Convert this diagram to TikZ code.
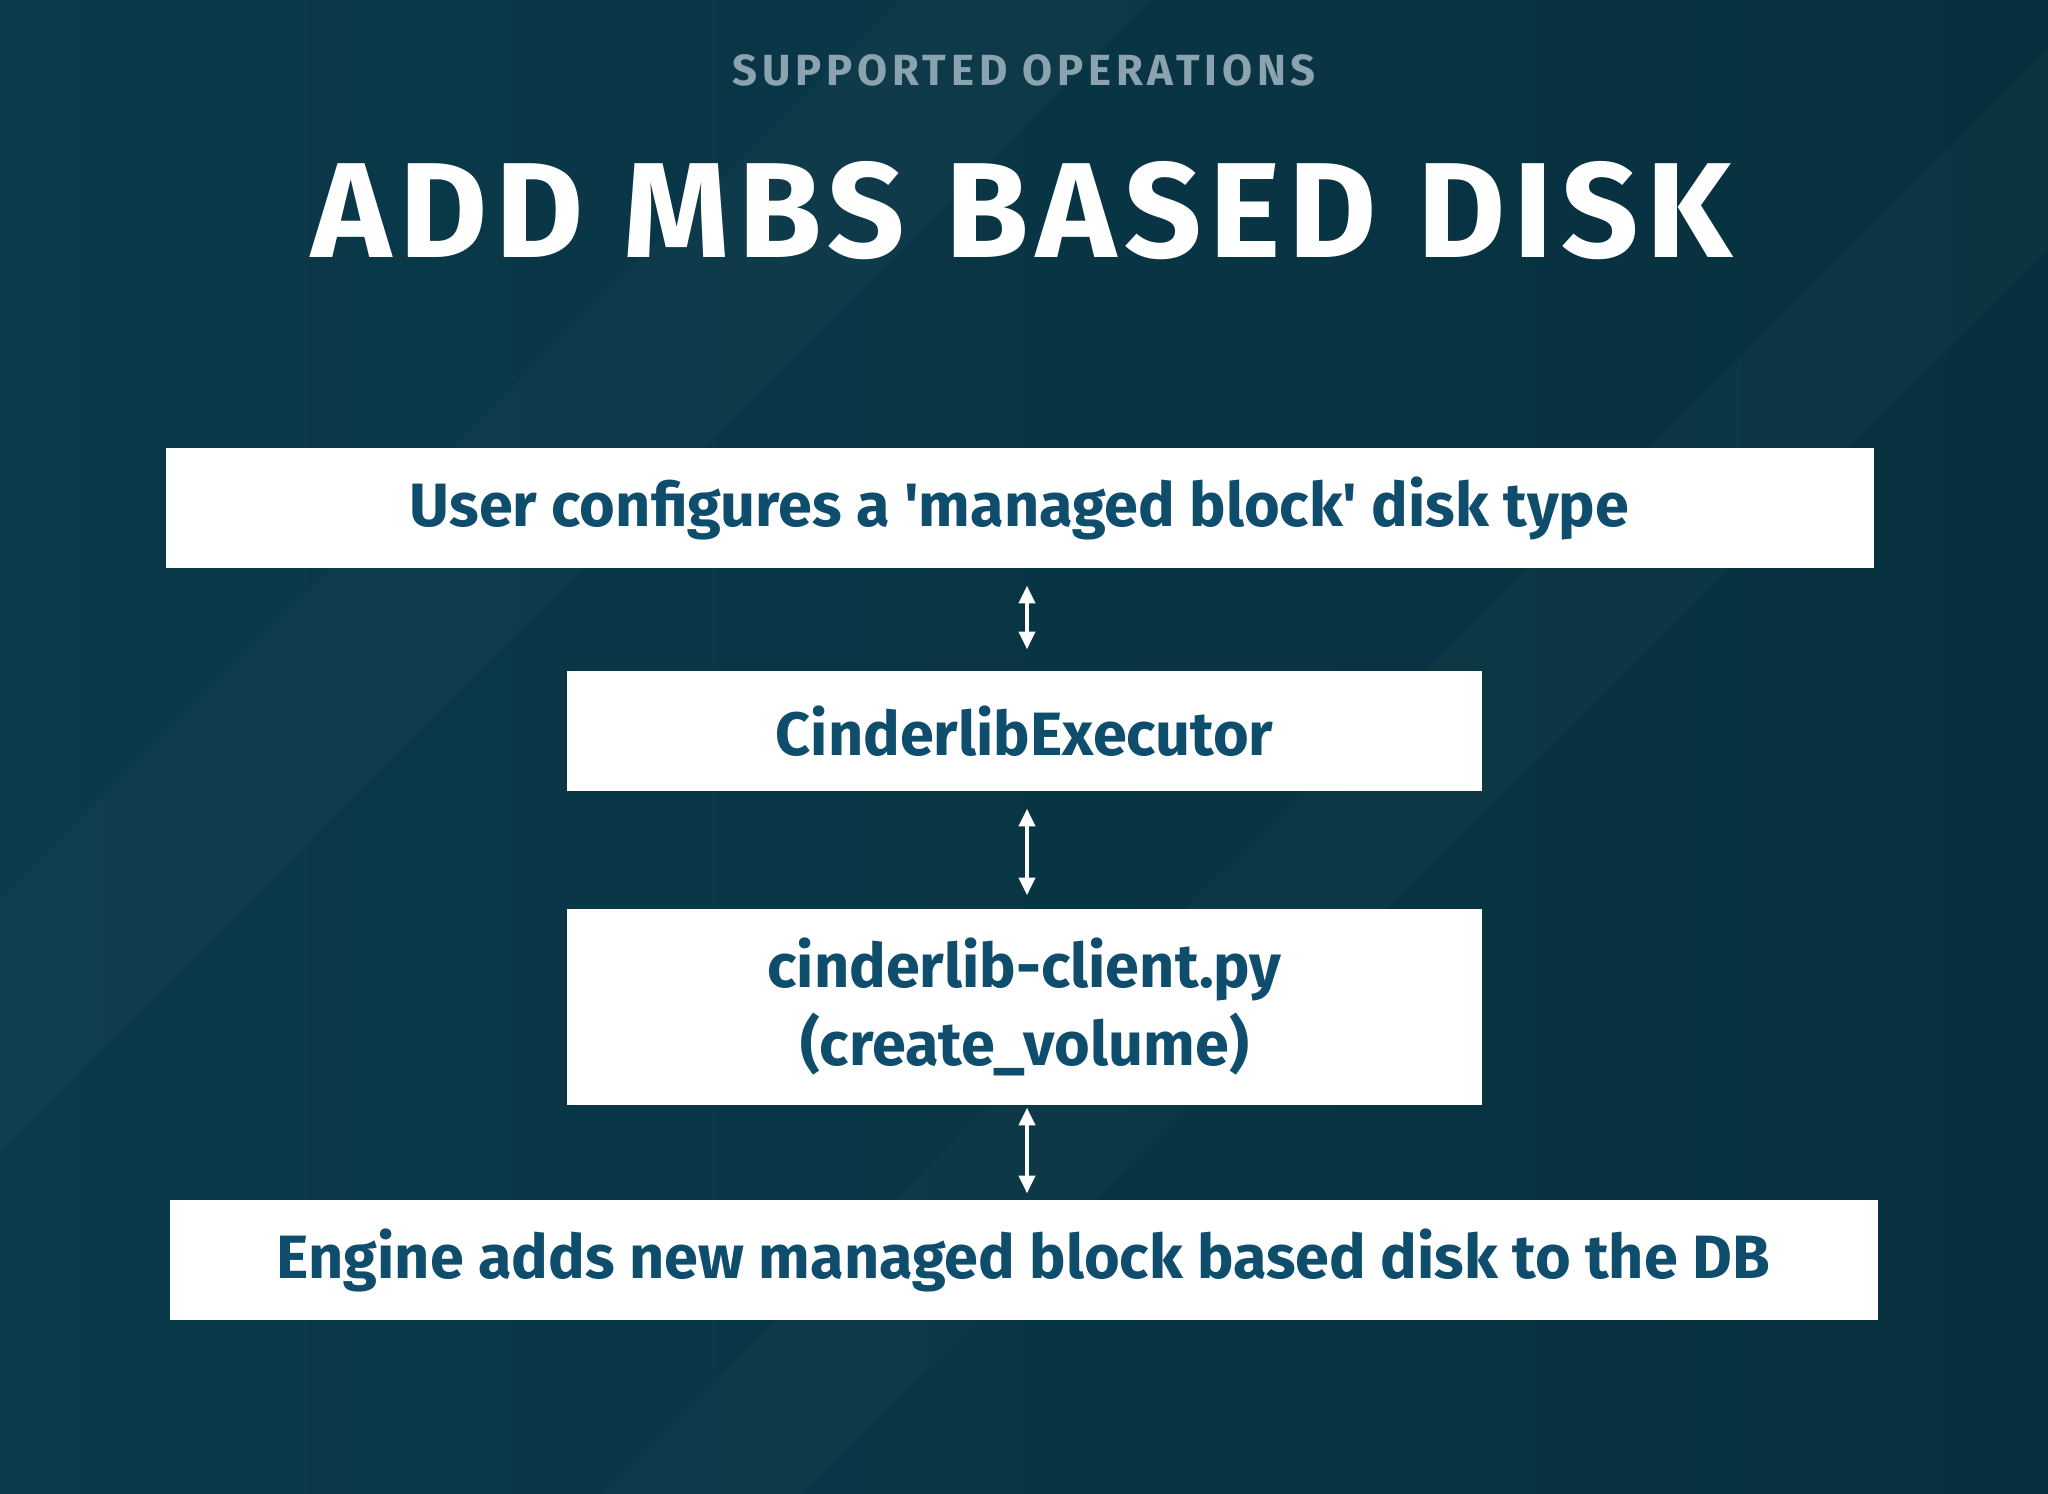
\documentclass[tikz,border=0pt]{standalone}
\usepackage{fontspec}
\setmainfont{Fira Sans}
\usepackage{tikz}
\usetikzlibrary{arrows.meta,positioning}

\definecolor{slidebg}{HTML}{07303E}
\definecolor{slidebgl}{HTML}{0A3A4B}
\definecolor{kickercol}{HTML}{8AA3AF}
\definecolor{boxtext}{HTML}{0F4D6C}

\tikzset{
  stepbox/.style={fill=white, draw=none, text=boxtext, font=\fontsize{17.4}{22}\selectfont\bfseries, align=center, inner sep=0pt},
  wide/.style={stepbox, minimum width=17.07cm, minimum height=1.2cm},
  narrow/.style={stepbox, minimum width=9.15cm, minimum height=1.2cm},
  link/.style={white, line width=0.9pt, {Triangle[width=4.6pt,length=5pt]}-{Triangle[width=4.6pt,length=5pt]}}
}

\begin{document}
\begin{tikzpicture}[x=0.01cm, y=-0.01cm]
  % background
  \fill[left color=slidebgl, right color=slidebg] (0,0) rectangle (2048,1494);
  \fill[white, opacity=0.025] (0,900) -- (900,0) -- (1150,0) -- (0,1150) -- cycle;
  \fill[white, opacity=0.02] (600,1494) -- (2048,50) -- (2048,250) -- (800,1494) -- cycle;
  \useasboundingbox (0,0) rectangle (2048,1494);

  % headings
  \node[text=kickercol, font=\fontsize{12.4}{14}\selectfont\bfseries\addfontfeatures{LetterSpace=11}] (kicker) at (1024,70) {SUPPORTED OPERATIONS};
  \node[text=white, font=\fontsize{38.5}{44}\selectfont\bfseries\addfontfeatures{LetterSpace=6}] (title) at (1022,211) {ADD MBS BASED DISK};

  % steps
  \node[wide] (user) at (1019.5,508) {User configures a \textquotesingle managed block\textquotesingle\ disk type};
  \node[narrow] (executor) at (1024.5,731) {CinderlibExecutor};
  \node[narrow, minimum height=1.96cm] (client) at (1024.5,1007) {cinderlib-client.py\\(create\_volume)};
  \node[wide] (engine) at (1023.5,1260) {Engine adds new managed block based disk to the DB};

  % arrows, all on one vertical line
  \coordinate (axis) at (1027,0);
  \draw[link, shorten <=0.17cm, shorten >=0.21cm] (axis |- user.south) -- (axis |- executor.north);
  \draw[link, shorten <=0.17cm, shorten >=0.13cm] (axis |- executor.south) -- (axis |- client.north);
  \draw[link, shorten <=0.02cm, shorten >=0.06cm] (axis |- client.south) -- (axis |- engine.north);
\end{tikzpicture}
\end{document}
